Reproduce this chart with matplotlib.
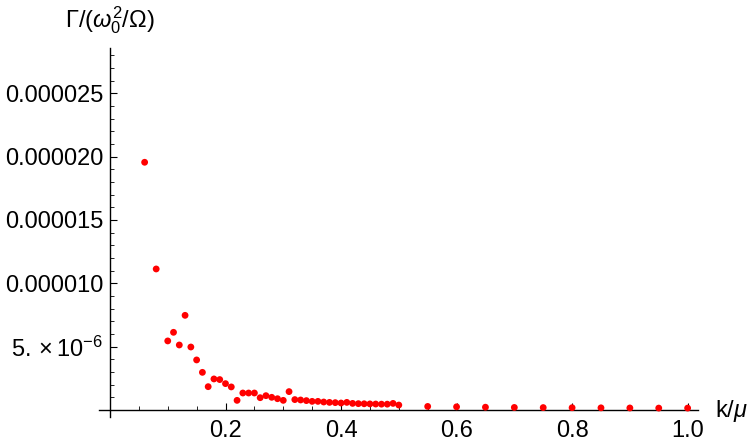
import matplotlib

matplotlib.use("Agg")

import matplotlib.pyplot as plt
from matplotlib.ticker import FixedLocator, MultipleLocator

# данные
k_values = [0.06, 0.08, 0.10, 0.11, 0.12, 0.13, 0.14, 0.15, 0.16, 0.17,
            0.18, 0.19, 0.20, 0.21, 0.22, 0.23, 0.24, 0.25, 0.26, 0.27,
            0.28, 0.29, 0.30, 0.31, 0.32, 0.33, 0.34, 0.35, 0.36, 0.37,
            0.38, 0.39, 0.40, 0.41, 0.42, 0.43, 0.44, 0.45, 0.46, 0.47,
            0.48, 0.49, 0.50, 0.55, 0.60, 0.65, 0.70, 0.75, 0.80, 0.85,
            0.90, 0.95, 1.00]
gamma_e6 = [19.55, 11.13, 5.45, 6.13, 5.13, 7.47, 4.97, 3.95, 2.97, 1.84,
            2.45, 2.40, 2.08, 1.82, 0.76, 1.34, 1.34, 1.34, 0.97, 1.13,
            1.00, 0.89, 0.76, 1.45, 0.82, 0.79, 0.74, 0.68, 0.68, 0.63,
            0.60, 0.58, 0.55, 0.60, 0.52, 0.50, 0.49, 0.48, 0.47, 0.46,
            0.46, 0.52, 0.39, 0.28, 0.25, 0.22, 0.20, 0.19, 0.18, 0.17,
            0.16, 0.15, 0.15]
gamma = [g * 1e-6 for g in gamma_e6]

y_ticks = [5e-6, 10e-6, 15e-6, 20e-6, 25e-6]
y_tick_labels = [r"$5.\times10^{-6}$", "0.000010", "0.000015", "0.000020", "0.000025"]
x_ticks = [0.2, 0.4, 0.6, 0.8, 1.0]
x_tick_labels = ["0.2", "0.4", "0.6", "0.8", "1.0"]

plt.rcParams["font.family"] = ["Liberation Sans", "DejaVu Sans"]
plt.rcParams["mathtext.fontset"] = "custom"
plt.rcParams["mathtext.rm"] = "Liberation Sans"
plt.rcParams["mathtext.it"] = "Liberation Sans:italic"

fig = plt.figure(figsize=(7.5, 4.46), dpi=100)
ax = fig.add_axes([0.132, 0.0657, 0.7987, 0.8267])

ax.scatter(k_values, gamma, s=24, color="#ff0000", edgecolors="none", zorder=3, clip_on=False)

ax.set_xlim(-0.019, 1.018)
ax.set_ylim(-0.53e-6, 28.57e-6)

for side in ["top", "right"]:
    ax.spines[side].set_visible(False)
ax.spines["left"].set_position(("data", 0))
ax.spines["bottom"].set_position(("data", 0))
for side in ["left", "bottom"]:
    ax.spines[side].set_linewidth(1.0)

ax.xaxis.set_major_locator(FixedLocator(x_ticks))
ax.set_xticklabels(x_tick_labels)
ax.xaxis.set_minor_locator(MultipleLocator(0.05))
ax.yaxis.set_major_locator(FixedLocator(y_ticks))
ax.set_yticklabels(y_tick_labels)
ax.yaxis.set_minor_locator(MultipleLocator(1e-6))

ax.tick_params(axis="both", which="major", direction="in", length=5, width=0.8, labelsize=17)
ax.tick_params(axis="both", which="minor", direction="in", length=3, width=0.6)
ax.tick_params(axis="x", pad=7)
ax.tick_params(axis="y", pad=5)

fig.text(110 / 750, 1 - 20 / 446, r"$\Gamma/(\omega_0^2/\Omega)$", ha="center", va="center", fontsize=17)
fig.text(715 / 750, 1 - 411 / 446, r"k/$\mu$", ha="left", va="center", fontsize=17)

plt.savefig("out.png", dpi=100)
plt.close(fig)
